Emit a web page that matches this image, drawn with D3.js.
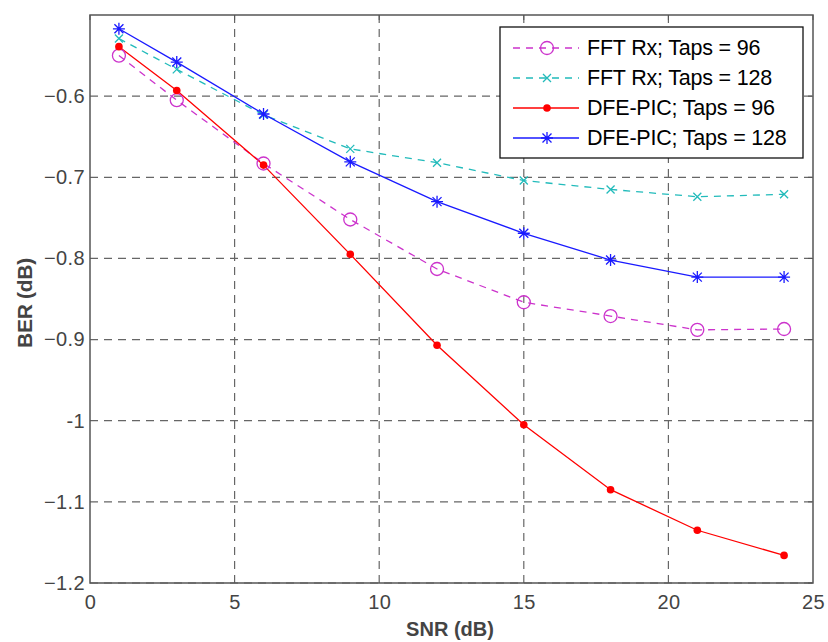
<!DOCTYPE html>
<html>
<head>
<meta charset="utf-8">
<script src="https://cdn.jsdelivr.net/npm/d3@7"></script>
<style>
	body { margin: 0; background: #fff; }
	svg { font-family: "Liberation Sans", Arial, sans-serif; }
	.tick text { fill: #444; font-size: 20px; letter-spacing: 0.4px; }
	.gridline { stroke: #666; stroke-width: 1.2px; stroke-dasharray: 8,6; }
</style>
</head>
<body>
<div id="chart"></div>
<script>
var snr = [1, 3, 6, 9, 12, 15, 18, 21, 24];
var fft96 = [-0.550, -0.605, -0.683, -0.752, -0.813, -0.854, -0.871, -0.888, -0.887];
var fft128 = [-0.529, -0.567, -0.623, -0.665, -0.682, -0.704, -0.715, -0.724, -0.721];
var dfe96 = [-0.539, -0.593, -0.685, -0.795, -0.907, -1.005, -1.085, -1.135, -1.166];
var dfe128 = [-0.517, -0.558, -0.622, -0.681, -0.730, -0.769, -0.802, -0.823, -0.823];
var seriesNames = ["FFT Rx; Taps = 96", "FFT Rx; Taps = 128", "DFE-PIC; Taps = 96", "DFE-PIC; Taps = 128"];
var xTicks = [0, 5, 10, 15, 20, 25];
var yTicks = [-1.2, -1.1, -1, -0.9, -0.8, -0.7, -0.6];

var colors = ["#cc33cc", "#22bbbb", "#ff0000", "#1a1aff"];
var dashes = ["7,6", "7,6", null, null];
var markers = ["circle", "x", "dot", "star"];

var width = 828, height = 642;
var pLeft = 90, pRight = 813, pTop = 15, pBottom = 583;

var data = [fft96, fft128, dfe96, dfe128].map(function(vals, i) {
	return { name: seriesNames[i], values: vals.map(function(v, j) { return { x: snr[j], y: v }; }) };
});

var xScale = d3.scaleLinear().domain([0, 25]).range([pLeft, pRight]);
var yScale = d3.scaleLinear().domain([-1.2, -0.5]).range([pBottom, pTop]);

var svg = d3.select("#chart").append("svg")
	.attr("width", width)
	.attr("height", height);

/* grid */
svg.append("g").selectAll("line")
	.data(xTicks.slice(1, -1)).enter()
	.append("line").attr("class", "gridline")
	.attr("x1", d => xScale(d)).attr("x2", d => xScale(d))
	.attr("y1", pTop).attr("y2", pBottom);

svg.append("g").selectAll("line")
	.data(yTicks).enter()
	.append("line").attr("class", "gridline")
	.attr("y1", d => yScale(d)).attr("y2", d => yScale(d))
	.attr("x1", pLeft).attr("x2", pRight);

/* axes */
var xAxis = d3.axisBottom(xScale).tickValues(xTicks).tickSize(0).tickPadding(12).tickFormat(d3.format("d"));
var yAxis = d3.axisLeft(yScale).tickValues(yTicks).tickSize(0).tickPadding(5).tickFormat(d => d === -1 ? "-1" : d3.format(".1f")(d));

svg.append("g")
	.attr("transform", `translate(0, ${pBottom})`)
	.call(xAxis)
	.call(g => g.select(".domain").remove());

svg.append("g")
	.attr("transform", `translate(${pLeft}, 0)`)
	.call(yAxis)
	.call(g => g.select(".domain").remove());

// small inner ticks on the box edges
var tl = 5;
svg.append("g").selectAll("line")
	.data(xTicks).enter().append("line")
	.attr("x1", d => xScale(d)).attr("x2", d => xScale(d))
	.attr("y1", pTop).attr("y2", pTop + tl)
	.attr("stroke", "#555");
svg.append("g").selectAll("line")
	.data(yTicks).enter().append("line")
	.attr("y1", d => yScale(d)).attr("y2", d => yScale(d))
	.attr("x1", pRight).attr("x2", pRight - tl)
	.attr("stroke", "#555");

svg.append("rect")
	.attr("x", pLeft).attr("y", pTop)
	.attr("width", pRight - pLeft).attr("height", pBottom - pTop)
	.attr("fill", "none").attr("stroke", "#555").attr("stroke-width", 1.5);

/* axis labels */
svg.append("text")
	.attr("x", 450).attr("y", 636)
	.attr("text-anchor", "middle")
	.style("font-size", "20px").style("font-weight", "bold").style("fill", "#444")
	.style("letter-spacing", "0px")
	.text("SNR (dB)");

svg.append("text")
	.attr("transform", "translate(32, 303) rotate(-90)")
	.attr("text-anchor", "middle")
	.style("font-size", "21px").style("font-weight", "bold").style("fill", "#444")
	.style("letter-spacing", "-0.3px")
	.text("BER (dB)");

/* lines */
var line = d3.line().x(d => xScale(d.x)).y(d => yScale(d.y));

svg.append("g").selectAll("path")
	.data(data).enter()
	.append("path")
	.attr("d", d => line(d.values))
	.attr("fill", "none")
	.attr("stroke", (d, i) => colors[i])
	.attr("stroke-width", 1.3)
	.attr("stroke-dasharray", (d, i) => dashes[i]);

function drawMarker(g, type, color) {
	if (type === "circle") {
		g.append("circle").attr("r", 6.5).attr("fill", "none").attr("stroke", color).attr("stroke-width", 1.3);
	} else if (type === "x") {
		g.append("path").attr("d", "M-4,-4L4,4M-4,4L4,-4").attr("stroke", color).attr("stroke-width", 1.3);
	} else if (type === "dot") {
		g.append("circle").attr("r", 3.8).attr("fill", color);
	} else if (type === "star") {
		g.append("path").attr("d", "M-6,0L6,0M0,-6L0,6M-4.5,-4.5L4.5,4.5M-4.5,4.5L4.5,-4.5")
			.attr("stroke", color).attr("stroke-width", 1.3);
	}
}

data.forEach(function(s, i) {
	s.values.forEach(function(p) {
		var g = svg.append("g").attr("transform", `translate(${xScale(p.x)}, ${yScale(p.y)})`);
		drawMarker(g, markers[i], colors[i]);
	});
});

/* legend */
var lg = svg.append("g");
lg.append("rect")
	.attr("x", 500).attr("y", 27).attr("width", 303).attr("height", 131)
	.attr("fill", "#fff").attr("stroke", "#111").attr("stroke-width", 1.3);

var rowY = d3.scalePoint().domain(seriesNames).range([48, 138]);

seriesNames.forEach(function(name, i) {
	var y = rowY(name);
	lg.append("line")
		.attr("x1", 513).attr("x2", 579).attr("y1", y).attr("y2", y)
		.attr("stroke", colors[i]).attr("stroke-width", 1.3)
		.attr("stroke-dasharray", dashes[i]);
	var g = lg.append("g").attr("transform", `translate(547, ${y})`);
	drawMarker(g, markers[i], colors[i]);
	lg.append("text")
		.attr("x", 587).attr("y", y + 7)
		.style("font-size", "21.5px").style("fill", "#000")
		.style("letter-spacing", "-0.2px")
		.text(name);
});
</script>
</body>
</html>
